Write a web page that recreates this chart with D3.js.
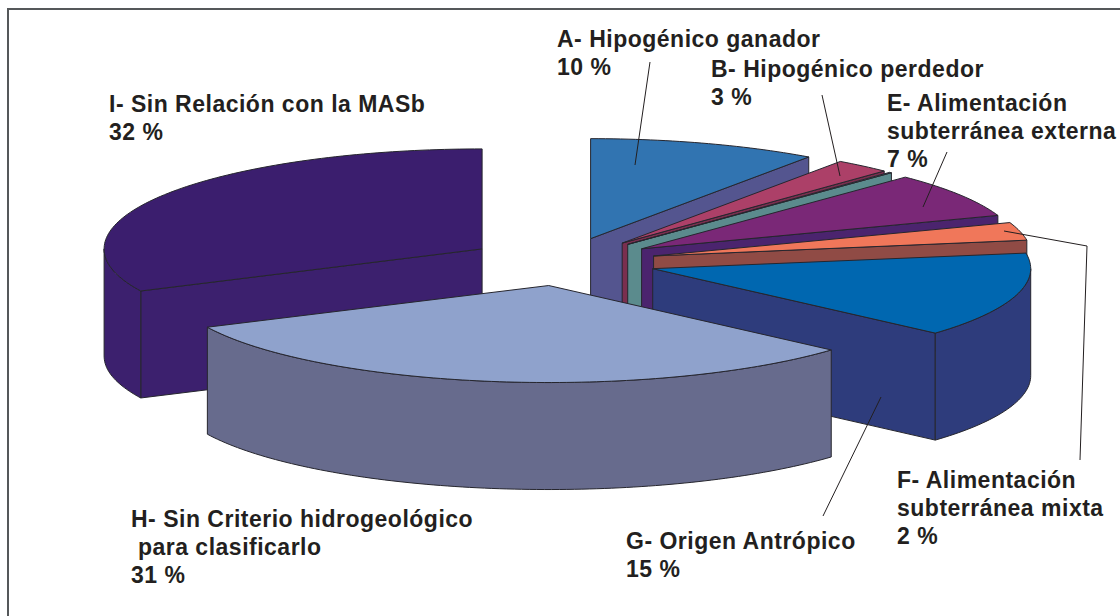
<!DOCTYPE html>
<html lang="es">
<head>
<meta charset="utf-8">
<title>Relación con la MASb</title>
<script src="https://cdn.jsdelivr.net/npm/d3@7"></script>
<style>
  html, body { margin: 0; padding: 0; background: #fff; }
  svg { display: block; }
  text { font-family: "Liberation Sans", Arial, sans-serif; font-weight: bold; font-size: 23px; letter-spacing: 0.5px; fill: #231f20; }
</style>
</head>
<body>
<div id="chart"></div>
<script>
// values (share of the ring, the printed % are in the labels)
const categories = ["A", "B", "C", "E", "F", "G", "H", "I"];
const shares = [9.8, 2.4, 0.1, 7.3, 2.9, 14.1, 31.4, 32.1];
const topColors = ["#3174b1", "#ac4068", "#5b8b8d", "#7a2877", "#f0775a", "#0067b0", "#8fa2cc", "#3b1e6e"];
const wallColors = ["#54558f", "#7a2f4f", "#5b8b8d", "#4b246e", "#904b45", "#2e3c7c", "#676b8d", "#3c206e"];

const labelNames = [
  ["A- Hipogénico ganador"],
  ["B- Hipogénico perdedor"],
  ["E- Alimentación", "subterránea externa"],
  ["F- Alimentación", "subterránea mixta"],
  ["G- Origen Antrópico"],
  ["H- Sin Criterio hidrogeológico", " para clasificarlo"],
  ["I- Sin Relación con la MASb"]
];
const labelPercents = ["10 %", "3 %", "7 %", "2 %", "15 %", "31 %", "32 %"];

//---------------------------------
/* layout */
const w = 1120;
const h = 616;
const cx = 562;
const cy = 262;
const rx = 378;
const ryBack = 100;
const ryFront = 97;
const depth = 107;
const explodeX = 0.25;
const explodeY = 0.245;
const lineColor = "#26262e";

const labelPos = [
  { x: 557, y: 46.5 },
  { x: 711, y: 77 },
  { x: 887, y: 110.5 },
  { x: 897, y: 488 },
  { x: 626, y: 549 },
  { x: 131, y: 527 },
  { x: 109, y: 111.5 }
];
const lineHeight = 28;

const leaders = [
  [[650, 62], [635, 165]],
  [[822, 95], [840, 176]],
  [[947, 152], [923, 207]],
  [[1004, 231], [1087, 246], [1080, 460]],
  [[881, 397], [823, 516]]
];

const svg = d3.select("#chart")
  .append("svg")
  .attr("width", w)
  .attr("height", h);

// only the top and left sides of the frame are in the picture
svg.append("path")
  .attr("d", d3.line()([[8, h], [8, 9], [w, 9]]))
  .attr("fill", "none")
  .attr("stroke", "#55585a")
  .attr("stroke-width", 2);

//---------------------------------
/* unit circle -> flattened pie, the front half is a bit flatter than the back */
const xScale = d3.scaleLinear().domain([-1, 1]).range([cx - rx, cx + rx]);
const yScale = d3.scaleLinear().domain([-1, 0, 1]).range([cy + ryFront, cy, cy - ryBack]);

const pie = d3.pie().sort(null).value(d => d.share);
const slices = pie(categories.map((c, i) => ({
  name: c,
  share: shares[i],
  top: topColors[i],
  wall: wallColors[i]
})));

const line = d3.line();
const half = Math.PI;

slices.forEach(d => {
  d.mid = (d.startAngle + d.endAngle) / 2;
  d.dx = explodeX * Math.sin(d.mid);
  d.dy = explodeY * Math.cos(d.mid);
});

// point of slice d at angle a and radius r (0..1), z is how far down the side
function pt(d, a, r, z) {
  return [
    xScale(d.dx + r * Math.sin(a)),
    yScale(d.dy + r * Math.cos(a)) + (z || 0)
  ];
}

function arcPoints(d, a0, a1, z) {
  const n = Math.max(2, Math.ceil((a1 - a0) / 0.02));
  return d3.range(n + 1).map(i => pt(d, a0 + (a1 - a0) * i / n, 1, z));
}

function radialWall(d, a) {
  return line([pt(d, a, 0, 0), pt(d, a, 1, 0), pt(d, a, 1, depth), pt(d, a, 0, depth)]) + "Z";
}

function outerWall(d) {
  const a0 = Math.max(d.startAngle, half / 2);
  const a1 = Math.min(d.endAngle, half * 1.5);
  if (a1 <= a0) return null;
  const pts = arcPoints(d, a0, a1, 0).concat(arcPoints(d, a0, a1, depth).reverse());
  return line(pts) + "Z";
}

function topFace(d) {
  return line([pt(d, 0, 0, 0)].concat(arcPoints(d, d.startAngle, d.endAngle, 0))) + "Z";
}

/* back slices first, the one nearest to the viewer last */
const order = slices.slice().sort((a, b) => {
  const da = Math.abs(a.mid - half);
  const db = Math.abs(b.mid - half);
  return db - da;
});

const pieG = svg.append("g").attr("stroke", lineColor).attr("stroke-width", 1).attr("stroke-linejoin", "round");

order.forEach(d => {
  const g = pieG.append("g").attr("class", "slice-" + d.data.name);
  const faces = [];
  if (d.endAngle < half) faces.push(radialWall(d, d.endAngle));
  if (d.startAngle > half) faces.push(radialWall(d, d.startAngle));
  const outer = outerWall(d);
  if (outer) faces.push(outer);
  g.selectAll("path.wall")
    .data(faces).enter()
    .append("path")
    .attr("class", "wall")
    .attr("d", p => p)
    .attr("fill", d.data.wall);
  g.append("path")
    .attr("class", "top")
    .attr("d", topFace(d))
    .attr("fill", d.data.top);
});

//---------------------------------
/* leader lines */
svg.append("g").selectAll("path")
  .data(leaders).enter()
  .append("path")
  .attr("d", d => line(d))
  .attr("fill", "none")
  .attr("stroke", "#231f20")
  .attr("stroke-width", 1);

//---------------------------------
/* labels */
const labels = svg.append("g").selectAll("text")
  .data(labelNames.map((n, i) => ({ lines: n.concat(labelPercents[i]), pos: labelPos[i] })))
  .enter()
  .append("text")
  .attr("x", d => d.pos.x)
  .attr("y", d => d.pos.y);

labels.selectAll("tspan")
  .data(d => d.lines.map((t, i) => ({ t: t, i: i, x: d.pos.x })))
  .enter()
  .append("tspan")
  .attr("x", d => d.x)
  .attr("dy", d => d.i ? lineHeight : 0)
  .style("white-space", "pre")
  .text(d => d.t);
</script>
</body>
</html>
